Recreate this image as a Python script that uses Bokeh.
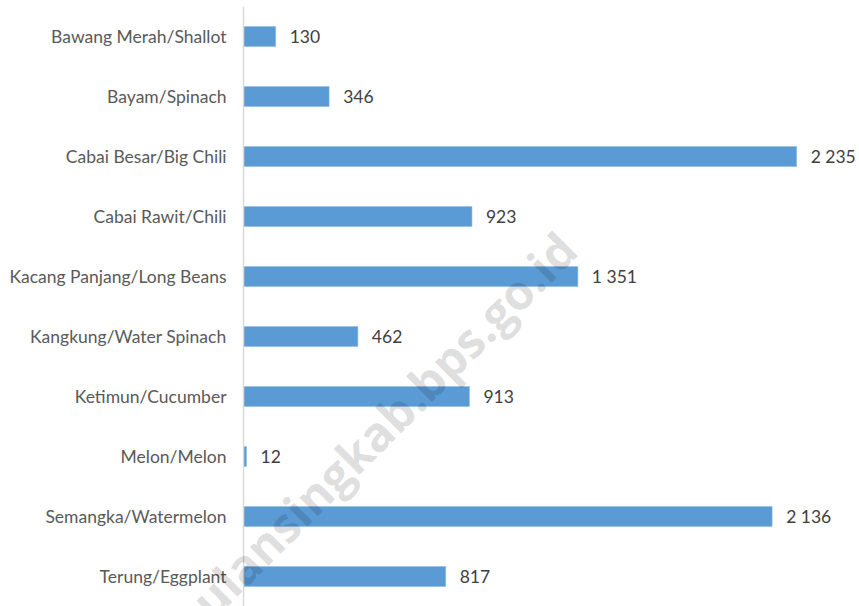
from bokeh.plotting import figure
from bokeh.models import ColumnDataSource, FactorRange, Range1d, Label, Span
from bokeh.core.properties import value
from bokeh.embed import file_html
from bokeh.resources import INLINE

categories = [
    "Bawang Merah/Shallot",
    "Bayam/Spinach",
    "Cabai Besar/Big Chili",
    "Cabai Rawit/Chili",
    "Kacang Panjang/Long Beans",
    "Kangkung/Water Spinach",
    "Ketimun/Cucumber",
    "Melon/Melon",
    "Semangka/Watermelon",
    "Terung/Eggplant",
]
values = [130, 346, 2235, 923, 1351, 462, 913, 12, 2136, 817]
value_labels = [f"{v:,}".replace(",", " ") for v in values]
watermark = "ulansingkab.bps.go.id"

source = ColumnDataSource(dict(cat=categories, val=values, lab=value_labels))

p = figure(
    width=859, height=606,
    y_range=FactorRange(factors=list(reversed(categories)), range_padding=0),
    x_range=Range1d(-982, 2489),
    output_backend="svg", toolbar_location=None,
    min_border_left=0, min_border_right=0, min_border_top=6, min_border_bottom=0,
)
p.outline_line_color = None
p.grid.visible = False
p.xaxis.visible = False
p.yaxis.visible = False

# category axis line at zero
p.add_layout(Span(location=0, dimension="height", line_color="#D9D9D9", line_width=1.5))

p.hbar(y="cat", right="val", left=0, height=0.333, source=source,
       fill_color="#5B9BD5", line_color="#8FB9E2", line_width=0.5)

# value labels
p.text(x="val", y="cat", text="lab", source=source, x_offset=14,
       text_align="left", text_baseline="middle",
       text_font=value("Lato"), text_font_size="17.5px", text_color="#404040")

# category labels (left of the axis line)
p.text(x=0, y="cat", text="cat", source=source, x_offset=-17,
       text_align="right", text_baseline="middle",
       text_font=value("Lato"), text_font_size="17.5px", text_color="#595959")

wm = Label(x=567, y=366, x_units="screen", y_units="screen", text=watermark,
           angle=45, angle_units="deg", text_align="right", text_baseline="alphabetic",
           text_font="Open Sans", text_font_style="bold", text_font_size="48px",
           text_color="black", text_alpha=0.15)
p.add_layout(wm)

open("out.html", "w").write(file_html(p, INLINE))
